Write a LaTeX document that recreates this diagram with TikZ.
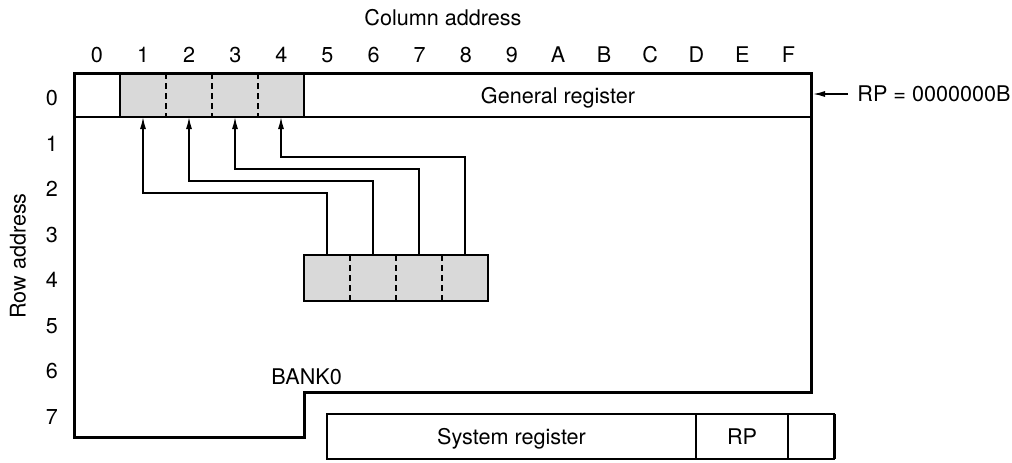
\documentclass[tikz,border=0pt]{standalone}
\usepackage{fontspec}
\setmainfont{TeX Gyre Heros}
\usetikzlibrary{arrows.meta}
\usetikzlibrary{positioning}

\tikzset{
	lbl/.style={inner sep=0pt, text height=7.7pt, text depth=0pt, font=\fontsize{10.8}{12}\selectfont},
	cell/.style={inner sep=0pt, outer sep=0pt, minimum width=23pt, minimum height=22pt, fill=black!15},
	sepline/.style={line width=0.7pt, dash pattern=on 3pt off 2pt},
	thickline/.style={line width=1.5pt},
	sysbox/.style={lbl, draw, line width=0.7pt, outer sep=0pt, minimum height=22.5pt},
	arr/.style={-{Latex[length=6pt,width=3pt]}, line width=0.7pt}
}

\begin{document}
\begin{tikzpicture}[x=0.5pt,y=-0.5pt]

	\useasboundingbox (0,0) rectangle (1012,462);

	% address labels
	\node[lbl] (coladdr) at (443,18) {Column address};
	\node[lbl, rotate=90] (rowaddr) at (18,256) {Row address};
	\foreach \cl [count=\i from 0] in {0,1,2,3,4,5,6,7,8,9,A,B,C,D,E,F}
		\node[lbl] (col\i) at (97+46.1*\i,55) {\cl};
	\foreach \r in {0,...,7}
		\node[lbl] (row\r) at (52,98+45.5*\r) {\r};

	% shaded cells
	\foreach \i in {1,...,4}
		\node[cell] (u\i) at (97+46*\i,95) {};
	\foreach \j in {5,...,8}
		\node[cell, minimum height=23pt] (l\j) at (97+46*\j,278) {};
	\foreach \i in {1,...,3}
		\draw[sepline] (u\i.north east) -- (u\i.south east);
	\foreach \j in {5,...,7}
		\draw[sepline] (l\j.north east) -- (l\j.south east);
	\draw[line width=0.7pt] (u1.north west) -- (u1.south west)
		(u4.north east) -- (u4.south east);
	\draw[line width=0.9pt] (l5.north west) rectangle (l8.south east);

	% bank outline
	\draw[line width=0.7pt] (74,117) -- (811,117);
	\draw[thickline] (74,73) -- (811,73) -- (811,392) -- (304,392)
		-- (304,437) -- (74,437) -- cycle;
	\node[lbl] (genreg) at (558,96) {General register};
	\node[lbl, anchor=west] (bank) at (271,377) {BANK0};

	% RP pointer
	\coordinate (rpin) at (813,94);
	\node[lbl, anchor=west, inner xsep=4.5pt] (rpval) at (848,94) {RP = 0000000B};
	\draw[arr] (rpval.west) -- (rpin);

	% transfer arrows
	\foreach \j/\i/\up in {5/1/62, 6/2/74, 7/3/86, 8/4/98}
		\draw[arr] (l\j.north) -- ++(0,-\up) -| (u\i.south);

	% system register
	\node[sysbox, minimum width=184.5pt] (sysreg) at (511.5,436.5) {System register};
	\node[sysbox, minimum width=46pt, right=0pt of sysreg] (rpreg) {RP};
	\node[sysbox, minimum width=23pt, right=0pt of rpreg] (spare) {};
	\draw[thickline] (spare.north east) -- (spare.south east);

\end{tikzpicture}
\end{document}
